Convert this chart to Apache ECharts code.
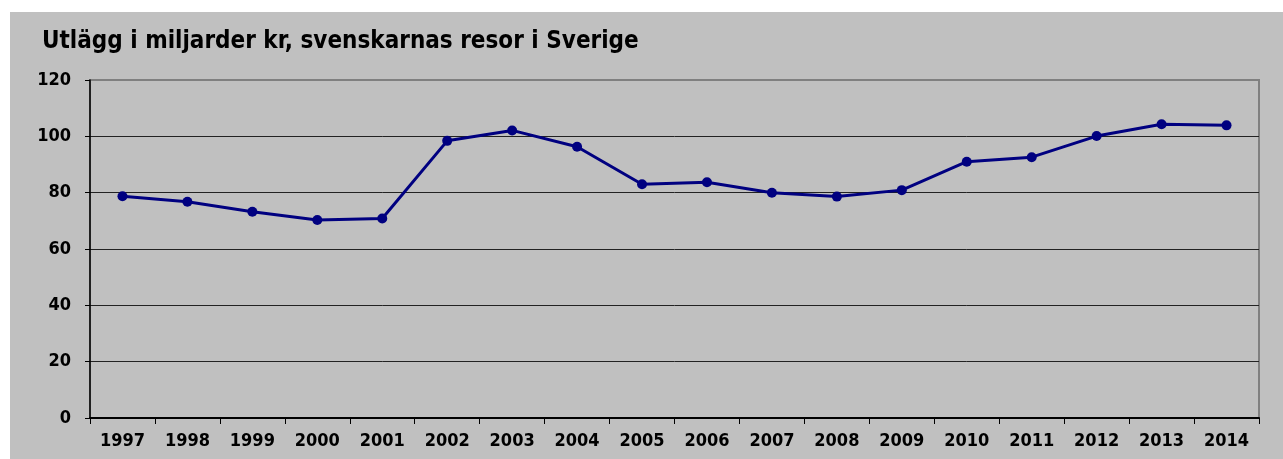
<!DOCTYPE html>
<html>
<head>
<meta charset="utf-8">
<script src="https://cdn.jsdelivr.net/npm/echarts@6/dist/echarts.min.js"></script>
<style>
  html, body { margin: 0; padding: 0; background: #fff; }
  #chart { position: absolute; left: 10px; top: 12px; width: 1273px; height: 447px; background: #c0c0c0; }
</style>
</head>
<body>
<div id="chart"></div>
<script>
const years = ['1997', '1998', '1999', '2000', '2001', '2002', '2003', '2004', '2005',
  '2006', '2007', '2008', '2009', '2010', '2011', '2012', '2013', '2014'];
const utlagg = [78.7, 76.8, 73.2, 70.3, 70.8, 98.4, 102.1, 96.3, 83.0,
  83.7, 80.0, 78.6, 80.9, 91.0, 92.6, 100.1, 104.3, 103.9];
const yTicks = { min: 0, max: 120, step: 20 };

const font = '"DejaVu Sans Condensed", "DejaVu Sans", sans-serif';

let chart = echarts.init(document.getElementById('chart'));
chart.setOption({
  animation: false,
  title: {
    text: 'Utlägg i miljarder kr, svenskarnas resor i Sverige',
    left: 27,
    top: 13,
    textStyle: { fontFamily: font, fontWeight: 'bold', fontSize: 24, color: '#000' }
  },
  grid: {
    left: 80, right: 24, top: 68, bottom: 41,
    show: true, borderColor: '#808080', borderWidth: 2, backgroundColor: 'transparent'
  },
  xAxis: {
    type: 'category',
    data: years,
    boundaryGap: true,
    axisLine: { lineStyle: { color: '#000', width: 2 } },
    axisTick: { show: true, length: 6, lineStyle: { color: '#000', width: 1 } },
    axisLabel: { margin: 14, fontFamily: font, fontWeight: 'bold', fontSize: 18, color: '#000' }
  },
  yAxis: {
    type: 'value',
    min: yTicks.min,
    max: yTicks.max,
    interval: yTicks.step,
    axisLine: { show: true, lineStyle: { color: '#000', width: 1.5 } },
    axisTick: { show: true, length: 5, lineStyle: { color: '#000' } },
    axisLabel: { margin: 19, fontFamily: font, fontWeight: 'bold', fontSize: 18, color: '#000' },
    splitLine: { show: true, showMaxLine: false, lineStyle: { color: '#222', width: 1 } }
  },
  series: [
    {
      type: 'line',
      data: utlagg,
      symbol: 'circle',
      symbolSize: 10,
      color: '#000080',
      lineStyle: { color: '#000080', width: 3 },
      itemStyle: { color: '#000080' }
    }
  ]
});
</script>
</body>
</html>
